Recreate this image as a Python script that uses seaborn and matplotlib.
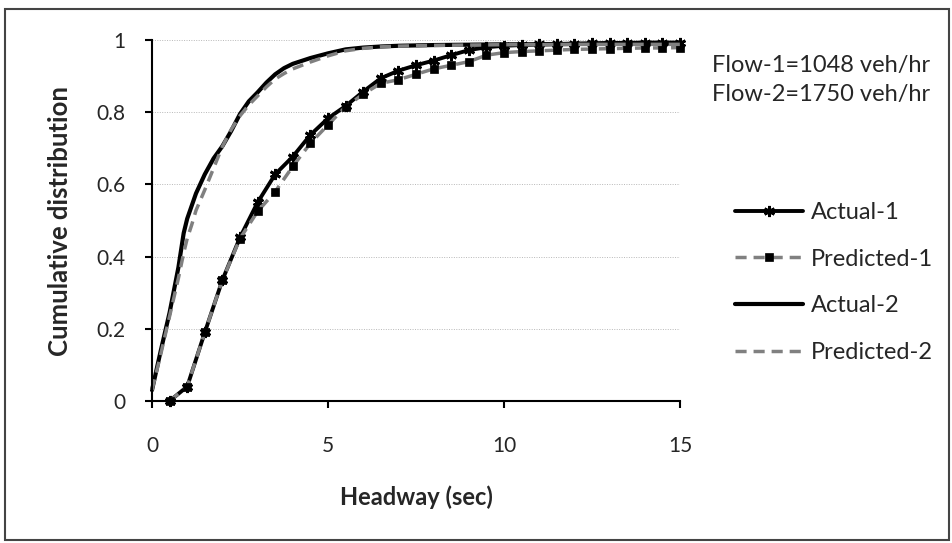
import matplotlib
matplotlib.use("Agg")
import matplotlib.pyplot as plt
import seaborn as sns
from matplotlib.patches import Rectangle

# Headway CDF values
HEADWAY_1 = [0.5, 1.0, 1.5, 2.0, 2.5, 3.0, 3.5, 4.0, 4.5, 5.0,
             5.5, 6.0, 6.5, 7.0, 7.5, 8.0, 8.5, 9.0, 9.5, 10.0,
             10.5, 11.0, 11.5, 12.0, 12.5, 13.0, 13.5, 14.0, 14.5, 15.0]
ACTUAL_1 = [0.0, 0.04, 0.19, 0.335, 0.453, 0.55, 0.628, 0.677, 0.737, 0.783,
            0.817, 0.857, 0.894, 0.915, 0.93, 0.943, 0.958, 0.972, 0.98, 0.984,
            0.986, 0.988, 0.989, 0.99, 0.991, 0.992, 0.992, 0.993, 0.993, 0.993]
PREDICTED_1 = [0.0, 0.04, 0.19, 0.335, 0.45, 0.525, 0.58, 0.65, 0.714, 0.765,
               0.815, 0.85, 0.88, 0.89, 0.905, 0.92, 0.93, 0.94, 0.958, 0.965,
               0.968, 0.97, 0.972, 0.974, 0.975, 0.976, 0.977, 0.978, 0.978, 0.979]

HEADWAY_2 = [0.0, 0.25, 0.5, 0.75, 0.9, 1.0, 1.125, 1.25, 1.5, 1.75, 2.0, 2.25,
             2.5, 2.75, 3.0, 3.25, 3.5, 3.75, 4.0, 4.5, 5.0, 5.5, 6.0, 6.5,
             7.0, 8.0, 9.0, 10.0, 11.0, 12.0, 13.0, 14.0, 15.0]
ACTUAL_2 = [0.03, 0.14, 0.245, 0.37, 0.465, 0.505, 0.54, 0.575, 0.628, 0.672, 0.706, 0.748,
            0.795, 0.83, 0.855, 0.882, 0.905, 0.922, 0.934, 0.95, 0.963, 0.974, 0.979, 0.982,
            0.984, 0.986, 0.987, 0.988, 0.988, 0.989, 0.989, 0.99, 0.99]
PREDICTED_2 = [0.03, 0.13, 0.235, 0.34, 0.41, 0.45, 0.487, 0.528, 0.585, 0.645, 0.705, 0.752,
               0.79, 0.82, 0.845, 0.87, 0.892, 0.907, 0.92, 0.939, 0.956, 0.97, 0.977, 0.981,
               0.983, 0.985, 0.986, 0.987, 0.987, 0.988, 0.988, 0.988, 0.988]

FLOW_TEXT = ["Flow-1=1048 veh/hr", "Flow-2=1750 veh/hr"]

sns.set_style("white")
plt.rcParams['font.family'] = ['Lato', 'DejaVu Sans']

W, H = 953, 543
fig = plt.figure(figsize=(W / 100, H / 100), dpi=100)
ax = fig.add_axes([152 / W, 1 - 401 / H, 528 / W, 361 / H])

gray = '#808080'
dash = (0, (3.2, 2.0))

sns.lineplot(x=HEADWAY_1, y=ACTUAL_1, ax=ax, color='black', linewidth=2.8,
             marker=(6, 2, 0), markersize=8, markeredgewidth=2,
             markeredgecolor='black', label='Actual-1', clip_on=False)
sns.lineplot(x=HEADWAY_1, y=PREDICTED_1, ax=ax, color=gray, linewidth=2.5,
             linestyle=dash, marker='s', markersize=6, markerfacecolor='black',
             markeredgecolor='black', markeredgewidth=0.5,
             label='Predicted-1', clip_on=False)
sns.lineplot(x=HEADWAY_2, y=ACTUAL_2, ax=ax, color='black', linewidth=3,
             label='Actual-2', clip_on=False)
sns.lineplot(x=HEADWAY_2, y=PREDICTED_2, ax=ax, color=gray, linewidth=2.5,
             linestyle=dash, label='Predicted-2', clip_on=False)

ax.set_xlim(0, 15)
ax.set_ylim(0, 1)
ax.set_xticks([0, 5, 10, 15])
ax.set_yticks([0, 0.2, 0.4, 0.6, 0.8, 1])
ax.set_yticklabels(['0', '0.2', '0.4', '0.6', '0.8', '1'])
ax.tick_params(axis='both', direction='out', length=5, width=1.5,
               labelsize=15, color='black', left=True, bottom=True)
ax.tick_params(axis='x', pad=20)
ax.tick_params(axis='y', pad=14)

for y in [0.2, 0.4, 0.6, 0.8, 1.0]:
    ax.axhline(y, color='#b8b8b8', linewidth=0.7, linestyle=(0, (1, 1.5)), zorder=0)

sns.despine(ax=ax)
for side in ['left', 'bottom']:
    ax.spines[side].set_linewidth(1.5)
    ax.spines[side].set_color('black')

ax.set_xlabel('Headway (sec)', fontsize=17, fontweight='bold')
ax.set_ylabel('Cumulative distribution', fontsize=18.5, fontweight='bold')
ax.xaxis.set_label_coords(0.5, (H - 485 - (H - 401)) / 361)
ax.yaxis.set_label_coords((72 - 152) / 528, 0.5)

ax.legend(loc='upper left', bbox_to_anchor=(735 / W, 1 - 202 / H),
          bbox_transform=fig.transFigure, frameon=False, fontsize=17,
          borderpad=0, borderaxespad=0, handlelength=2.9, handletextpad=0.3,
          labelspacing=1.09, numpoints=1)

fig.text(712 / W, 1 - 72 / H, FLOW_TEXT[0], fontsize=17, va='baseline', ha='left')
fig.text(712 / W, 1 - 101.5 / H, FLOW_TEXT[1], fontsize=17, va='baseline', ha='left')

fig.patches.append(Rectangle((5 / W, 3 / H), 944 / W, 531 / H,
                             transform=fig.transFigure, fill=False,
                             edgecolor='#444444', linewidth=1.5))

fig.savefig('out.png', dpi=100)
